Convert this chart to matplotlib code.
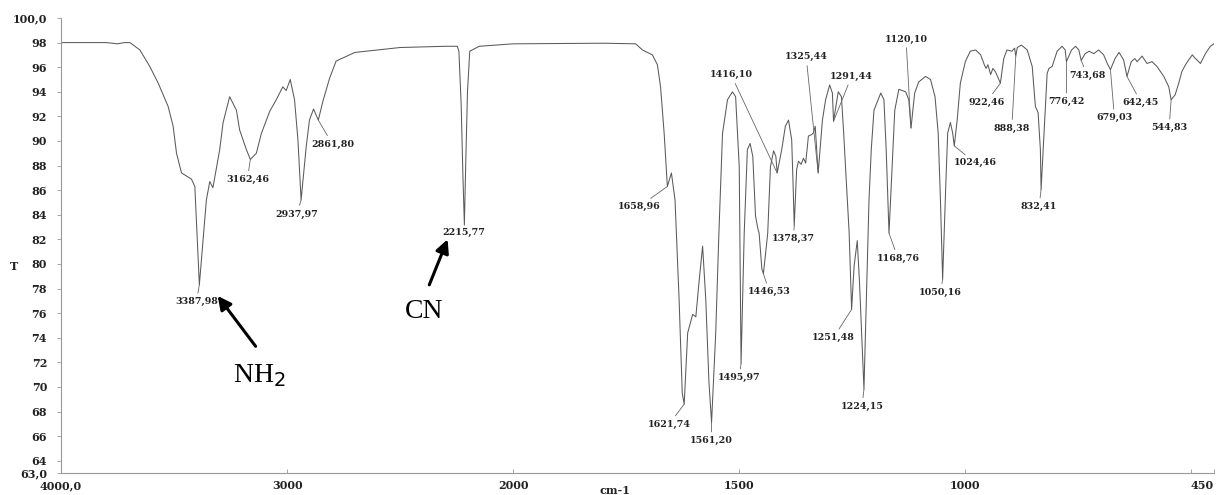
import matplotlib
matplotlib.use('Agg')
import matplotlib.pyplot as plt
import numpy as np

# spectrum traced from the print (wavenumber cm-1, %T)
wn = [4000, 3800, 3750, 3720, 3695, 3651, 3607, 3570, 3526, 3504, 3489, 3467, 3423, 3408,
      3387.98, 3357, 3342, 3328, 3298, 3283, 3254, 3224, 3210, 3180, 3162.46, 3136, 3114,
      3077, 3048, 3019, 3004, 2986, 2967, 2952, 2937.97, 2915, 2901, 2883, 2861.80, 2842,
      2812, 2783, 2700, 2500, 2300, 2247, 2240, 2230, 2222, 2215.77, 2210, 2202, 2192, 2150,
      2000, 1800, 1729, 1714, 1692, 1681, 1674, 1666, 1658.96, 1650, 1642, 1633, 1626,
      1621.74, 1614, 1603, 1596, 1589, 1581, 1574, 1567, 1561.20, 1552, 1545, 1537, 1526,
      1515, 1508, 1500, 1495.97, 1489, 1482, 1476, 1470, 1464, 1459, 1456, 1450, 1446.53,
      1437, 1431, 1424, 1419, 1416.10, 1406, 1398, 1391, 1384, 1381, 1378.37, 1373, 1369,
      1363, 1358, 1353, 1347, 1341, 1336, 1332, 1325.44, 1316, 1309, 1300, 1294, 1291.44,
      1281, 1274, 1269, 1265, 1257, 1251.48, 1246, 1239, 1234, 1224.15, 1217, 1213, 1208,
      1202, 1187, 1180, 1175, 1168.76, 1162, 1156, 1147, 1132, 1125, 1120.10, 1112, 1103,
      1088, 1077, 1067, 1060, 1055, 1050.16, 1043, 1039, 1033, 1028, 1024.46, 1018, 1011,
      1000, 989, 977, 966, 958, 954, 950, 944, 939, 933, 922.46, 915, 908, 897, 891, 888.38,
      885, 876, 863, 852, 845, 839, 834, 832.41, 826, 819, 815, 808, 797, 786, 779, 776.42,
      765, 756, 749, 743.68, 735, 726, 716, 705, 694, 686, 679.03, 669, 660, 650, 642.45,
      633, 625, 620, 609, 598, 587, 576, 561, 550, 544.83, 536, 528, 521, 513, 506, 498,
      491, 480, 469, 458, 450]
T = [98.0, 98.0, 97.9, 98.0, 98.0, 97.4, 96.05, 94.7, 92.8, 91.2, 89.0, 87.4, 86.9, 86.3,
     78.3, 85.2, 86.7, 86.2, 89.3, 91.5, 93.6, 92.5, 90.9, 89.3, 88.5, 89.0, 90.6,
     92.4, 93.35, 94.4, 94.1, 95.0, 93.35, 90.1, 85.2, 89.6, 91.7, 92.6, 91.7, 93.2,
     95.1, 96.5, 97.2, 97.6, 97.7, 97.7, 97.3, 93.0, 87.0, 83.2, 88.0, 94.0, 97.3, 97.7,
     97.9, 97.95, 97.9, 97.4, 97.0, 96.2, 94.4, 90.6, 86.3, 87.4, 85.2, 77.1, 69.5,
     68.6, 74.4, 75.9, 75.7, 78.5, 81.45, 77.1, 70.4, 67.1, 74.4, 82.5, 90.6, 93.35,
     94.0, 93.6, 87.9, 71.9, 82.5, 89.3, 89.8, 88.75, 83.9, 82.9, 82.5, 79.6, 79.2,
     82.5, 87.9, 89.2, 88.75, 87.4, 89.3, 91.2, 91.7, 90.1, 86.6, 83.1, 87.7, 88.35,
     88.1, 88.6, 88.2, 90.4, 90.5, 90.65, 91.2, 87.4, 91.7, 93.35, 94.55, 93.9, 91.6,
     94.0, 93.6, 90.65, 87.9, 82.6, 76.3, 79.8, 81.9, 78.5, 69.8, 79.8, 85.2, 89.3,
     92.5, 93.9, 93.35, 89.3, 82.5, 87.9, 92.5, 94.2, 94.0, 93.35, 91.05, 93.9, 94.8,
     95.25, 95.0, 93.6, 90.65, 85.2, 78.75, 86.6, 90.65, 91.5, 90.65, 89.6, 91.7, 94.7,
     96.45, 97.3, 97.4, 97.0, 96.2, 95.9, 96.2, 95.4, 95.9, 95.6, 94.7, 96.7, 97.4, 97.3, 97.55, 96.9,
     97.6, 97.8, 97.4, 96.05, 92.8, 92.3, 89.3, 86.05, 90.65, 95.5, 95.9, 96.05, 97.3, 97.7, 97.4, 96.45,
     97.4, 97.7, 97.4, 96.55, 97.1, 97.3, 97.1, 97.4, 97.0, 96.3, 95.8, 96.7, 97.2, 96.6, 95.25,
     96.45, 96.7, 96.45, 96.9, 96.3, 96.45, 96.05, 95.25, 94.4, 93.35, 93.75, 94.7, 95.65, 96.2, 96.6, 97.0,
     96.7, 96.3, 97.1, 97.7, 97.9]

# labelled peaks
peaks = [3387.98, 3162.46, 2937.97, 2861.80, 2215.77, 1658.96, 1621.74, 1561.20, 1495.97,
         1446.53, 1416.10, 1378.37, 1325.44, 1291.44, 1251.48, 1224.15, 1168.76, 1120.10,
         1050.16, 1024.46, 922.46, 888.38, 832.41, 776.42, 743.68, 679.03, 642.45, 544.83]
# where each label sits relative to its peak (pixels)
label_offsets = [(-3, -17), (-3, -20), (-4, -14), (14, -24), (-1, -8), (-28, -20), (-15, -20),
                 (0, -18), (-2, -14), (6, -18), (-46, 98), (-1, -13), (-12, 116), (18, 45),
                 (-18, -28), (-2, -17), (9, -25), (-5, 89), (-2, -13), (21, -17), (-14, -19),
                 (-4, -72), (-2, -17), (0, -40), (6, -15), (4, -48), (14, -26), (-2, -28)]

xticks = [4000, 3000, 2000, 1500, 1000, 500, 450]
xticklabels = ['4000,0', '3000', '2000', '1500', '1000', '', '450']
yticks = [63] + list(range(64, 100, 2)) + [100]
yticklabels = ['63,0'] + [str(v) for v in range(64, 100, 2)] + ['100,0']


# the instrument doubles the scale below 2000 cm-1
def fwd(w):
    w = np.asarray(w, dtype=float)
    return np.where(w >= 2000, w, 2 * w - 2000)


def inv(u):
    u = np.asarray(u, dtype=float)
    return np.where(u >= 2000, u, (u + 2000) / 2)


W, H = 1221, 495
fig = plt.figure(figsize=(W / 100, H / 100), dpi=100)
ax = fig.add_axes([61 / W, 1 - 473 / H, (1214 - 61) / W, (473 - 18) / H])
ax.set_xscale('function', functions=(fwd, inv))
ax.plot(wn, T, color='#5a5a5a', lw=0.75)
ax.set_xlim(4000, 450)
ax.set_ylim(63, 100)

tick_font = dict(family='DejaVu Serif', weight='bold', size=8)
ax.set_xticks(xticks)
ax.set_xticklabels(xticklabels, **tick_font, color='#222222')
ax.get_xticklabels()[-1].set_horizontalalignment('right')
ax.set_yticks(yticks)
ax.set_yticklabels(yticklabels, **tick_font, color='#222222')
ax.tick_params(axis='y', length=3, width=0.6, color='#999999', pad=7)
ax.tick_params(axis='x', length=3, width=0.6, color='#999999', direction='in', pad=5)
for s in ['top', 'right']:
    ax.spines[s].set_visible(False)
for s in ['left', 'bottom']:
    ax.spines[s].set_color('#999999')
    ax.spines[s].set_linewidth(0.8)

# peak labels with connectors
wn_r = np.array(wn)[::-1]
T_r = np.array(T)[::-1]
for p, (dx, dy) in zip(peaks, label_offsets):
    tp = np.interp(p, wn_r, T_r)
    txt = f'{p:.2f}'.replace('.', ',')
    ax.annotate(txt, xy=(p, tp), xytext=(dx, dy), textcoords='offset pixels',
                ha='center', va='center', family='DejaVu Serif', weight='bold',
                size=6.8, color='#222222',
                arrowprops=dict(arrowstyle='-', lw=0.6, color='#666666',
                                shrinkA=1, shrinkB=0))

# group annotations
arrow = dict(arrowstyle='-|>', lw=2.2, color='black', mutation_scale=20,
             shrinkA=0, shrinkB=0)
ax.annotate('', xy=(3307, 77.4), xytext=(3139, 73.3), arrowprops=arrow)
ax.text(3121, 70.9, 'NH$_2$', family='Liberation Serif', size=20,
        ha='center', va='center')
ax.annotate('', xy=(2290, 82.0), xytext=(2371, 78.3), arrowprops=arrow)
ax.text(2393, 76.1, 'CN', family='Liberation Serif', size=20,
        ha='center', va='center')

fig.text(14 / W, 1 - 267 / H, 'T', family='DejaVu Serif', weight='bold', size=8,
         ha='center', va='center', color='#222222')
fig.text(615 / W, 1 - 490 / H, 'cm-1', family='DejaVu Serif', weight='bold', size=8,
         ha='center', va='center', color='#222222')

fig.savefig('out.png', dpi=100, facecolor='white')
